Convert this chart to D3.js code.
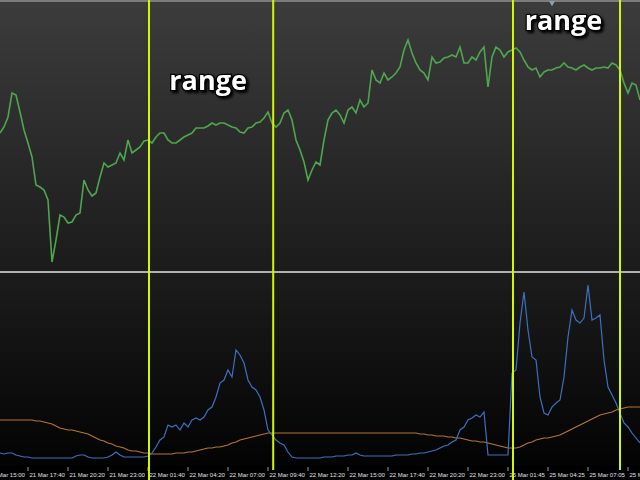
<!DOCTYPE html>
<html><head><meta charset="utf-8">
<script src="https://cdn.jsdelivr.net/npm/d3@7"></script>
<style>html,body{margin:0;padding:0;background:#000;overflow:hidden}</style>
</head><body>
<svg id="c" width="640" height="480"></svg>
<script>
// price (close) in points, one value per bar
const priceClose = [
 137,143,153,177,175,158,140,127,113,85,
 83,80,70,8,30,55,53,47,48,55,
 57,90,80,74,77,93,107,103,105,107,
 117,110,130,117,120,123,129,130,127,133,
 137,137,130,127,127,130,133,135,137,142,
 142,142,144,147,145,147,147,145,143,142,
 138,137,142,143,147,148,152,158,147,143,
 147,157,160,150,130,120,108,90,100,108,
 105,130,150,157,160,155,147,160,163,157,
 170,163,167,200,190,187,197,190,193,197,
 203,220,230,217,207,200,197,190,213,207,
 208,212,213,215,213,223,207,207,213,210,
 218,223,183,213,223,220,213,218,220,222,
 218,210,203,200,202,193,198,200,200,202,
 203,207,203,202,200,203,205,202,200,202,
 202,203,202,207,205,200,187,177,187,185,
 170
];
// fast indicator (blue)
const indicatorFast = [
 9,8,9,9,7,6,5,5,4,4,
 4,4,4,4,4,4,4,4,4,6,
 7,7,5,4,4,4,4,5,7,10,
 7,5,5,5,5,5,5,6,9,15,
 22,25,37,35,37,32,39,35,42,44,
 42,45,52,55,65,79,82,92,85,112,
 107,99,82,75,72,65,52,32,27,22,
 19,17,10,5,4,4,4,4,4,4,
 4,5,5,5,6,6,6,7,7,9,
 7,6,6,6,6,6,6,6,6,7,
 7,7,7,8,8,9,9,10,11,12,
 14,16,17,20,22,32,35,42,44,47,
 45,50,7,7,7,7,7,7,89,92,
 139,170,132,105,102,65,49,47,55,59,
 62,85,125,152,142,139,144,177,142,144,
 147,102,75,67,59,49,39,35,29,24,
 19
];
// slow indicator (orange)
const indicatorSlow = [
 42,42,42,42,42,42,42,42,42,41,
 41,40,39,38,36,34,33,32,32,31,
 30,29,28,26,24,22,21,19,18,16,
 15,14,12,11,11,10,9,9,8,8,
 8,8,8,8,9,9,9,10,10,11,
 12,13,14,14,15,15,16,17,19,20,
 22,23,24,25,26,27,28,29,29,29,
 29,29,29,29,29,29,29,29,29,29,
 29,29,29,29,29,29,29,29,29,29,
 29,29,29,29,29,29,29,29,29,29,
 29,29,29,29,29,28,28,27,27,26,
 26,26,25,25,24,24,23,22,21,21,
 20,20,19,18,17,16,15,14,14,14,
 15,17,19,20,22,23,24,24,25,26,
 27,29,31,33,35,37,39,41,43,45,
 47,48,49,50,52,53,54,55,55,55,
 55
];
const tickLabels = [
 "21 Mar 15:00","21 Mar 17:40","21 Mar 20:20","21 Mar 23:00",
 "22 Mar 01:40","22 Mar 04:20","22 Mar 07:00","22 Mar 09:40",
 "22 Mar 12:20","22 Mar 15:00","22 Mar 17:40","22 Mar 20:20",
 "22 Mar 23:00","25 Mar 01:45","25 Mar 04:25","25 Mar 07:05","25 Mar 09:45"
];
const firstTickBar = -3.25, barsPerTick = 10;
const rangeNames = ["range","range"];
const rangeStartBar = [37.25, 128.25];
const rangeEndBar = [68.3, 155];

const W = 640, H = 480;
const svg = d3.select("#c");
const defs = svg.append("defs");

const g1 = defs.append("linearGradient").attr("id","gTop").attr("x1",0).attr("x2",0).attr("y1",0).attr("y2",1);
g1.append("stop").attr("offset","0%").attr("stop-color","#3c3c3c");
g1.append("stop").attr("offset","100%").attr("stop-color","#1b1b1b");
const g2 = defs.append("linearGradient").attr("id","gBot").attr("x1",0).attr("x2",0).attr("y1",0).attr("y2",1);
g2.append("stop").attr("offset","0%").attr("stop-color","#1c1c1c");
g2.append("stop").attr("offset","100%").attr("stop-color","#030303");
const f = defs.append("filter").attr("id","sh").attr("x","-20%").attr("y","-30%").attr("width","150%").attr("height","170%");
f.append("feDropShadow").attr("dx",2).attr("dy",2).attr("stdDeviation",1.2).attr("flood-color","#000").attr("flood-opacity",0.9);
defs.append("clipPath").attr("id","cTop").append("rect").attr("x",0).attr("y",2).attr("width",W).attr("height",269);
defs.append("clipPath").attr("id","cBot").append("rect").attr("x",0).attr("y",273).attr("width",W).attr("height",193);

svg.append("rect").attr("width",W).attr("height",H).attr("fill","#000");
svg.append("rect").attr("x",0).attr("y",0).attr("width",W).attr("height",271).attr("fill","url(#gTop)");
svg.append("rect").attr("x",0).attr("y",273).attr("width",W).attr("height",193).attr("fill","url(#gBot)");
svg.append("rect").attr("x",0).attr("y",0).attr("width",W).attr("height",2).attr("fill","#7c7c7c");
svg.append("rect").attr("x",0).attr("y",271).attr("width",W).attr("height",2).attr("fill","#b0b0b0");
// small marker at top
svg.append("path").attr("d",d3.symbol(d3.symbolTriangle,14)()).attr("transform","translate(552,3) rotate(180)").attr("fill","#8fa0b4");

const x = d3.scaleLinear().domain([0, priceClose.length-1]).range([0, W]);
const yTop = d3.scaleLinear().domain([0, 270]).range([270, 0]);
const yBot = d3.scaleLinear().domain([0, 190]).range([462, 272]);

const lineTop = d3.line().x((d,i)=>x(i)).y(d=>yTop(d));
const lineBot = d3.line().x((d,i)=>x(i)).y(d=>yBot(d));

svg.append("g").attr("clip-path","url(#cTop)").append("path").datum(priceClose)
  .attr("d",lineTop).attr("fill","none").attr("stroke","#4ea64e").attr("stroke-width",1.6).attr("stroke-linejoin","miter");

const bot = svg.append("g").attr("clip-path","url(#cBot)");
bot.append("path").datum(indicatorSlow).attr("d",lineBot).attr("fill","none").attr("stroke","#b8742e").attr("stroke-width",1.2);
bot.append("path").datum(indicatorFast).attr("d",lineBot).attr("fill","none").attr("stroke","#3d70c2").attr("stroke-width",1.2);

// axis
const tickBars = tickLabels.map((_,i)=>firstTickBar + i*barsPerTick);
const ax = d3.axisBottom(x).tickValues(tickBars).tickFormat((d,i)=>tickLabels[i]).tickSize(4).tickPadding(0);
const axg = svg.append("g").attr("transform","translate(0,467)").call(ax);
axg.select(".domain").remove();
axg.selectAll(".tick line").attr("stroke","#9a9a9a").attr("transform","translate(0.5,0)");
axg.selectAll(".tick text").attr("text-anchor","start").attr("x",2).attr("y",0).attr("dy","9.6")
  .attr("fill","#e4e4e4").style("font-family","'Liberation Sans', Arial, sans-serif").style("font-size","6px");

// range lines
rangeStartBar.forEach((s,i)=>{
  const e = rangeEndBar[i];
  svg.append("line").attr("x1",x(s)).attr("x2",x(s)).attr("y1",0).attr("y2",480).attr("stroke","#d2f800").attr("stroke-width",2);
  svg.append("line").attr("x1",x(e)).attr("x2",x(e)).attr("y1",0).attr("y2",470).attr("stroke","#d2f800").attr("stroke-width",2);
});
const labelBaseY = [90, 30];
rangeNames.forEach((t,i)=>{
  const cx = (x(rangeStartBar[i]) + x(rangeEndBar[i]))/2 - 3;
  svg.append("text").attr("x",cx).attr("y",labelBaseY[i]).attr("text-anchor","middle")
    .attr("fill","#fff").attr("stroke","#000").attr("stroke-width",2.5).attr("paint-order","stroke")
    .attr("filter","url(#sh)")
    .style("font-family","'Open Sans', sans-serif").style("font-weight","700").style("font-size","27px")
    .text(t);
});
</script>
</body></html>
